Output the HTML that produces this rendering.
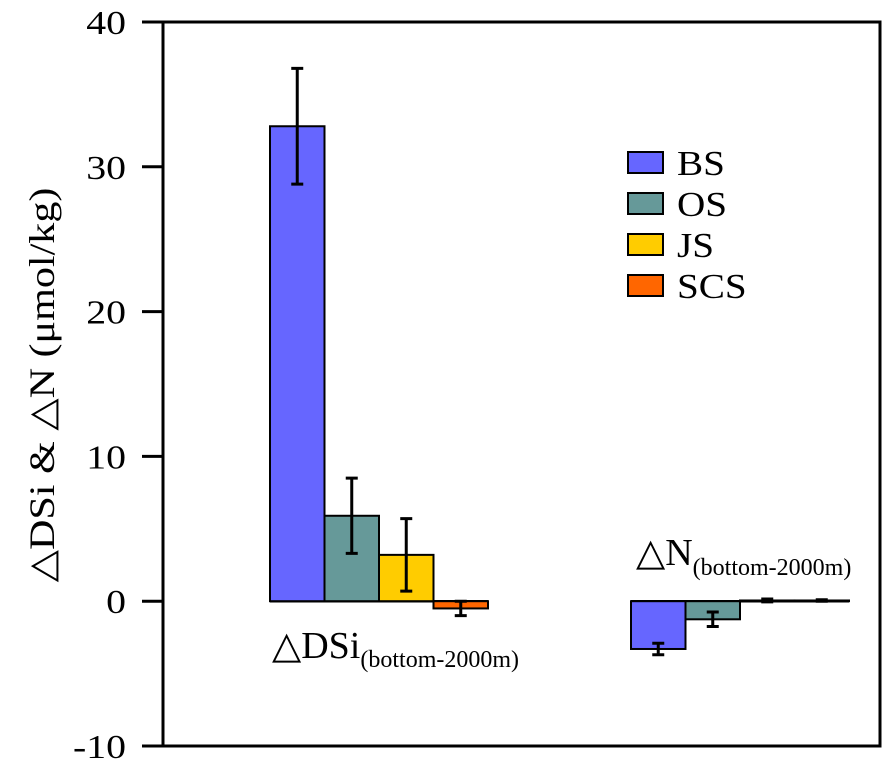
<!DOCTYPE html>
<html><head><meta charset="utf-8"><style>
body{margin:0;background:#fff;}
svg{display:block;font-family:"Liberation Serif",serif;}
</style></head><body>
<svg id="chart" width="886" height="765">
<g id="axes"></g><g id="bars"></g>
<text x="0" y="0" font-size="36" text-anchor="middle" transform="translate(54 385) rotate(-90) scale(1.17 1)">△DSi &amp; △N (μmol/kg)</text>
<text x="272" y="658" font-size="38">△DSi<tspan font-size="24" dy="9">(bottom-2000m)</tspan></text>
<text x="636" y="565" font-size="38">△N<tspan font-size="24" dy="10">(bottom-2000m)</tspan></text>
<g id="legend"></g>
</svg>
<script>
const categories=["DSi","N"];
const seriesNames=["BS","OS","JS","SCS"];
const colors=["#6666FF","#669999","#FFCC00","#FF6600"];
const valuesBS=[32.8,-3.3];
const valuesOS=[5.9,-1.25];
const valuesJS=[3.2,0.05];
const valuesSCS=[-0.5,0.05];
const errBS=[4.0,0.4];
const errOS=[2.6,0.5];
const errJS=[2.5,0.1];
const errSCS=[0.5,0.05];
const yTicks=[-10,0,10,20,30,40];
const series=[valuesBS,valuesOS,valuesJS,valuesSCS];
const errs=[errBS,errOS,errJS,errSCS];
const ns="http://www.w3.org/2000/svg";
const L=163,R=880,T=22,B=746;
const y=v=>T+(40-v)*(B-T)/50;
const groupX=[270,631],bw=54.5;
function mk(t,a,p){const e=document.createElementNS(ns,t);for(const k in a)e.setAttribute(k,a[k]);p.appendChild(e);return e;}
const ax=document.getElementById('axes');
const frame=mk('rect',{x:L,y:T,width:R-L,height:B-T,fill:'none',stroke:'#000','stroke-width':3},ax);


yTicks.forEach(t=>{
 const l=mk('line',{x1:L-21,x2:L,y1:y(t),y2:y(t),stroke:'#000','stroke-width':3},ax);
 
 
 const tx=mk('text',{x:0,y:0,'font-size':34,'text-anchor':'end',transform:`translate(126 ${y(t)+12}) scale(1.17 1)`},ax);
 tx.textContent=t;
 
 
});
const bg=document.getElementById('bars');
categories.forEach((c,ci)=>{
 const zl=mk('line',{x1:groupX[ci],x2:groupX[ci]+4*bw,y1:y(0),y2:y(0),stroke:'#000','stroke-width':2.5},bg);
 
 
 series.forEach((s,si)=>{
  const v=s[ci],x=groupX[ci]+si*bw;
  const r=mk('rect',{x:x,y:Math.min(y(v),y(0)),width:bw,height:Math.abs(y(v)-y(0)),fill:colors[si],stroke:'#000','stroke-width':2},bg);
  
  
  const e=errs[si][ci],cx=x+bw/2;
  const eb=mk('path',{d:`M${cx} ${y(v+e)}V${y(v-e)}M${cx-6} ${y(v+e)}H${cx+6}M${cx-6} ${y(v-e)}H${cx+6}`,stroke:'#000','stroke-width':3,fill:'none'},bg);
  
  
 });
});
const lg=document.getElementById('legend');
seriesNames.forEach((n,i)=>{
 const yy=152+i*41;
 const r=mk('rect',{x:628,y:yy,width:35,height:21,fill:colors[i],stroke:'#000','stroke-width':2},lg);
 
 
 const t=mk('text',{x:0,y:0,'font-size':35,transform:`translate(677 ${yy+23}) scale(1.12 1)`},lg);
 t.textContent=n;
 
 
});
</script>
</body></html>
